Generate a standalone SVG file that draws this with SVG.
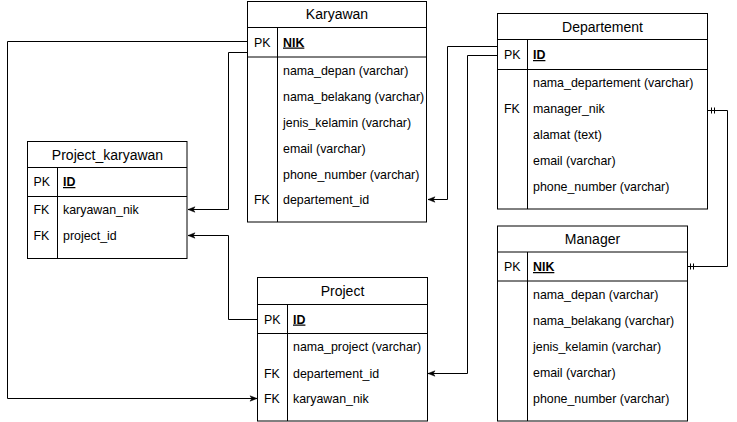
<svg xmlns="http://www.w3.org/2000/svg" width="737" height="422" viewBox="0 0 737 422">
<style>
.box{fill:#ffffff;stroke:#000000;stroke-width:1}
.ln{fill:none;stroke:#000000;stroke-width:1}
.t{font-family:"Liberation Sans",Arial,sans-serif;font-size:12.4px;fill:#000000}
.h{font-family:"Liberation Sans",Arial,sans-serif;font-size:14px;fill:#000000;text-anchor:middle}
.k{font-weight:bold;text-decoration:underline}
.c{fill:none;stroke:#000000;stroke-width:1}
</style>
<defs>
<marker id="arr" markerUnits="userSpaceOnUse" markerWidth="8" markerHeight="7" refX="7" refY="3.5" orient="auto" overflow="visible">
<path d="M0,0.8 L7,3.5 L0,6.2 L1.8,3.5 Z" fill="#000000" stroke="#000000" stroke-width="0.5"/>
</marker>
</defs>
<rect width="737" height="422" fill="#ffffff"/>

<g id="connectors">
<path class="c" d="M247.5,41.5 H7.5 V398.5 H257" marker-end="url(#arr)"/>
<path class="c" d="M247.5,52.5 H228.5 V209.5 H188" marker-end="url(#arr)"/>
<path class="c" d="M257.5,319.5 H228.5 V235.5 H188" marker-end="url(#arr)"/>
<path class="c" d="M497.5,46.5 H447.5 V199.5 H428" marker-end="url(#arr)"/>
<path class="c" d="M497.5,55.5 H467.5 V373.5 H428" marker-end="url(#arr)"/>
<path class="c" d="M707.5,110.5 H727.5 V266.5 H687.5"/>
<path class="c" d="M711.5,107.5 V113.5 M714.5,107.5 V113.5"/>
<path class="c" d="M690.5,263.5 V269.5 M693.5,263.5 V269.5"/>
</g>

<g id="karyawan">
<rect class="box" x="247.5" y="1.5" width="179" height="220.5"/>
<path class="ln" d="M247.5,27.5 H426.5 M247.5,57 H426.5 M277.5,27.5 V222"/>
<text class="h" x="337" y="19">Karyawan</text>
<text class="t" x="254" y="46.5">PK</text>
<text class="t k" x="283" y="46.5">NIK</text>
<text class="t" x="283" y="74.5">nama_depan (varchar)</text>
<text class="t" x="283" y="100.5">nama_belakang (varchar)</text>
<text class="t" x="283" y="126.5">jenis_kelamin (varchar)</text>
<text class="t" x="283" y="152.5">email (varchar)</text>
<text class="t" x="283" y="178.5">phone_number (varchar)</text>
<text class="t" x="254" y="204">FK</text>
<text class="t" x="283" y="204">departement_id</text>
</g>

<g id="departement">
<rect class="box" x="497.5" y="13.5" width="210" height="195.5"/>
<path class="ln" d="M497.5,39.5 H707.5 M497.5,69.5 H707.5 M527.5,39.5 V209"/>
<text class="h" x="602.5" y="31.5">Departement</text>
<text class="t" x="504" y="59">PK</text>
<text class="t k" x="533" y="59">ID</text>
<text class="t" x="533" y="87">nama_departement (varchar)</text>
<text class="t" x="504" y="113">FK</text>
<text class="t" x="533" y="113">manager_nik</text>
<text class="t" x="533" y="139">alamat (text)</text>
<text class="t" x="533" y="165">email (varchar)</text>
<text class="t" x="533" y="191">phone_number (varchar)</text>
</g>

<g id="project_karyawan">
<rect class="box" x="27.5" y="141.5" width="159.5" height="117"/>
<path class="ln" d="M27.5,167.5 H187 M27.5,196.5 H187 M57.5,167.5 V258.5"/>
<text class="h" x="107.5" y="159.5">Project_karyawan</text>
<text class="t" x="33.5" y="186">PK</text>
<text class="t k" x="63" y="186">ID</text>
<text class="t" x="33.5" y="214">FK</text>
<text class="t" x="63" y="214">karyawan_nik</text>
<text class="t" x="33.5" y="240">FK</text>
<text class="t" x="63" y="240">project_id</text>
</g>

<g id="project">
<rect class="box" x="257.5" y="277.5" width="170" height="143.5"/>
<path class="ln" d="M257.5,304.5 H427.5 M257.5,333.5 H427.5 M287.5,304.5 V421"/>
<text class="h" x="342.5" y="296">Project</text>
<text class="t" x="264" y="323.5">PK</text>
<text class="t k" x="293" y="323.5">ID</text>
<text class="t" x="293" y="351">nama_project (varchar)</text>
<text class="t" x="264" y="377.5">FK</text>
<text class="t" x="293" y="377.5">departement_id</text>
<text class="t" x="264" y="403">FK</text>
<text class="t" x="293" y="403">karyawan_nik</text>
</g>

<g id="manager">
<rect class="box" x="497.5" y="226" width="190" height="195"/>
<path class="ln" d="M497.5,252 H687.5 M497.5,281 H687.5 M527.5,252 V421"/>
<text class="h" x="592.5" y="244">Manager</text>
<text class="t" x="504" y="271">PK</text>
<text class="t k" x="533" y="271">NIK</text>
<text class="t" x="533" y="299">nama_depan (varchar)</text>
<text class="t" x="533" y="325">nama_belakang (varchar)</text>
<text class="t" x="533" y="351">jenis_kelamin (varchar)</text>
<text class="t" x="533" y="377">email (varchar)</text>
<text class="t" x="533" y="403">phone_number (varchar)</text>
</g>
</svg>
